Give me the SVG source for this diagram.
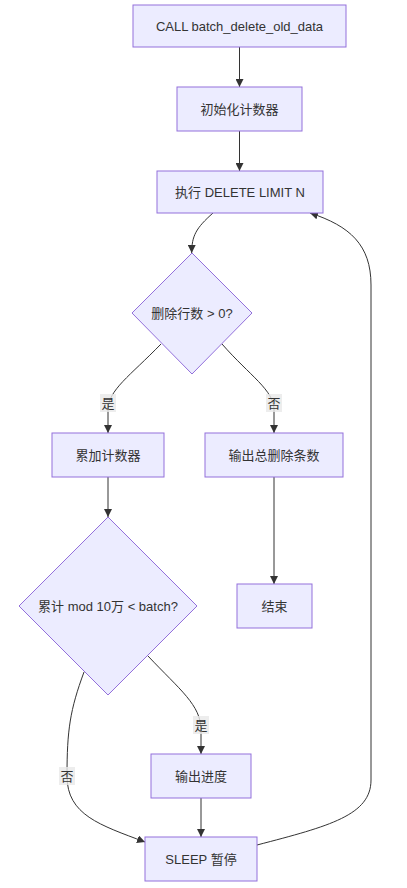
<svg xmlns="http://www.w3.org/2000/svg" width="407" height="888" viewBox="0 0 407 888">
<style>
.node rect,.node polygon{fill:#ECECFF;stroke:#9370DB;stroke-width:1}
text{font-family:"Liberation Sans","Noto Sans CJK SC",sans-serif;font-size:13px;fill:#333;text-anchor:middle;dominant-baseline:central}
.edge{fill:none;stroke:#333;stroke-width:1}
.lbl{fill:#e8e8e8;opacity:0.8}
</style>
<defs>
<marker id="arr" viewBox="0 0 10 10" refX="10" refY="5" markerUnits="userSpaceOnUse" markerWidth="8" markerHeight="8" orient="auto">
<path d="M0,0 L10,5 L0,10 z" fill="#333"/>
</marker>
</defs>
<rect width="407" height="888" fill="#fff"/>
<g id="edges">
<path class="edge" d="M239.5,47 L239.5,87" marker-end="url(#arr)"/>
<path class="edge" d="M239.5,131 L239.5,171" marker-end="url(#arr)"/>
<path class="edge" d="M213,213 C196,228 191.7,236 191.7,253" marker-end="url(#arr)"/>
<path class="edge" d="M161,344 C130,376 108,390 108,410 L108,433" marker-end="url(#arr)"/>
<path class="edge" d="M222,344 C250,376 274,390 274,410 L274,433" marker-end="url(#arr)"/>
<path class="edge" d="M108,477 L108,517" marker-end="url(#arr)"/>
<path class="edge" d="M274,477 L274,584" marker-end="url(#arr)"/>
<path class="edge" d="M148,656 C180,690 201,705 201,730 L201,754" marker-end="url(#arr)"/>
<path class="edge" d="M84,672 C70,710 67,730 67,776 C67,815 100,825 145,842" marker-end="url(#arr)"/>
<path class="edge" d="M201,798 L201,837" marker-end="url(#arr)"/>
<path class="edge" d="M257,845 C330,826 371,815 371,780 L371,285 C371,245 350,226 310,213" marker-end="url(#arr)"/>
<rect class="lbl" x="100" y="394" width="16" height="18"/>
<text x="108" y="403">是</text>
<rect class="lbl" x="266" y="394" width="16" height="18"/>
<text x="274" y="403">否</text>
<rect class="lbl" x="193" y="716" width="16" height="18"/>
<text x="201" y="725">是</text>
<rect class="lbl" x="59" y="767" width="16" height="18"/>
<text x="67" y="776">否</text>
</g>
<g id="n1" class="node"><rect x="133" y="5" width="213" height="42"/><text x="239.5" y="26">CALL batch_delete_old_data</text></g>
<g id="n2" class="node"><rect x="177" y="87" width="125" height="44"/><text x="239.5" y="109">初始化计数器</text></g>
<g id="n3" class="node"><rect x="157" y="171" width="166" height="42"/><text x="240" y="192">执行 DELETE LIMIT N</text></g>
<g id="d1" class="node"><polygon points="192,253 252,313 192,374 132,313"/><text x="192" y="313">删除行数 &gt; 0?</text></g>
<g id="n4" class="node"><rect x="52" y="433" width="112" height="44"/><text x="108" y="455">累加计数器</text></g>
<g id="n5" class="node"><rect x="205" y="433" width="138" height="44"/><text x="274" y="455">输出总删除条数</text></g>
<g id="d2" class="node"><polygon points="108,517 197,606 108,695 19,606"/><text x="108" y="606">累计 mod 10万 &lt; batch?</text></g>
<g id="n6" class="node"><rect x="237" y="584" width="75" height="44"/><text x="274.5" y="606">结束</text></g>
<g id="n7" class="node"><rect x="151" y="754" width="100" height="44"/><text x="201" y="776">输出进度</text></g>
<g id="n8" class="node"><rect x="145" y="837" width="112" height="44"/><text x="201" y="859">SLEEP 暂停</text></g>
</svg>
